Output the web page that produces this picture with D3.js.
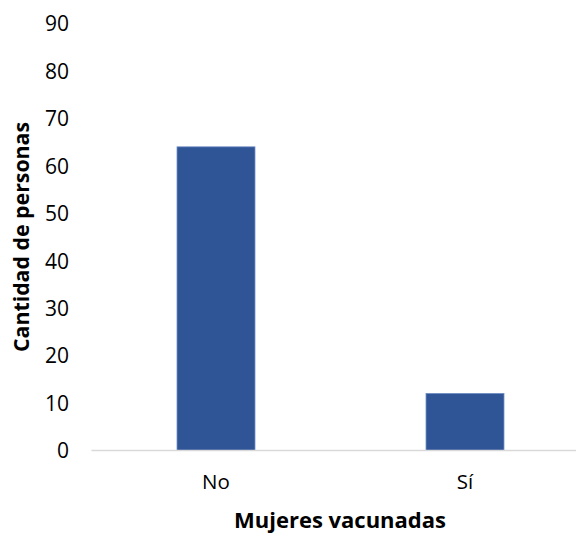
<!DOCTYPE html>
<html>
<head>
<meta charset="utf-8">
<script src="https://cdn.jsdelivr.net/npm/d3@7"></script>
<style>
  html, body { margin: 0; padding: 0; background: #fff; }
  svg { display: block; }
  text { font-family: "Open Sans", "Noto Sans", sans-serif; fill: #000; }
</style>
</head>
<body>
<script>
// Women vaccinated: count of people per answer
const categories = ["No", "Sí"];
const values = [64, 12];
const yTicks = [0, 10, 20, 30, 40, 50, 60, 70, 80, 90];
const xTitle = "Mujeres vacunadas";
const yTitle = "Cantidad de personas";

const width = 576, height = 537;
const plot = { left: 91.5, right: 589.5, top: 23.5, bottom: 450.5 };

const svg = d3.select("body").append("svg")
  .attr("width", width)
  .attr("height", height);

const x = d3.scaleBand()
  .domain(categories)
  .range([plot.left, plot.right])
  .paddingInner(0.687)
  .paddingOuter(0.3435);

const y = d3.scaleLinear()
  .domain([0, 90])
  .range([plot.bottom, plot.top]);

// Bars
svg.append("g")
  .selectAll("rect")
  .data(categories.map((c, i) => ({ c, v: values[i] })))
  .join("rect")
  .attr("x", d => x(d.c))
  .attr("y", d => y(d.v))
  .attr("width", x.bandwidth())
  .attr("height", d => y(0) - y(d.v))
  .attr("fill", "#2F5597")
  .attr("stroke", "#6a88c0")
  .attr("stroke-width", 0.8);

// Baseline
svg.append("line")
  .attr("x1", plot.left).attr("x2", width)
  .attr("y1", y(0)).attr("y2", y(0))
  .attr("stroke", "#d9d9d9")
  .attr("stroke-width", 1.5);

// Y axis labels
const yAxis = d3.axisLeft(y).tickValues(yTicks).tickSize(0).tickPadding(0);
const gy = svg.append("g")
  .attr("transform", `translate(69,0)`)
  .call(yAxis);
gy.select(".domain").remove();
gy.selectAll("text")
  .attr("font-size", 21)
  .attr("font-family", "Open Sans, Noto Sans, sans-serif")
  .attr("fill", "#000")
  .attr("dy", "0.35em");

// X axis labels
const xAxis = d3.axisBottom(x).tickSize(0).tickPadding(0);
const gx = svg.append("g")
  .attr("transform", `translate(0,${y(0)})`)
  .call(xAxis);
gx.select(".domain").remove();
gx.selectAll("text")
  .attr("font-size", 20.5)
  .attr("font-family", "Open Sans, Noto Sans, sans-serif")
  .attr("fill", "#000")
  .attr("y", 31)
  .attr("dy", "0.35em");

// Axis titles
svg.append("text")
  .attr("x", 340)
  .attr("y", 528)
  .attr("text-anchor", "middle")
  .attr("font-size", 22)
  .attr("font-weight", "bold")
  .text(xTitle);

svg.append("text")
  .attr("transform", "translate(29,237) rotate(-90)")
  .attr("text-anchor", "middle")
  .attr("font-size", 21.3)
  .attr("font-weight", "bold")
  .text(yTitle);
</script>
</body>
</html>
